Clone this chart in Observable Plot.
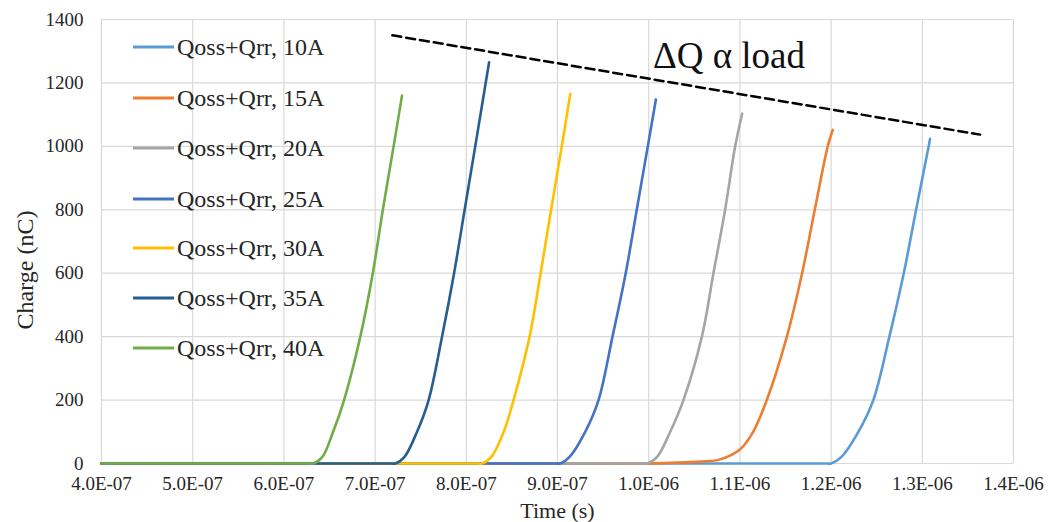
<!DOCTYPE html>
<html>
<head>
<meta charset="utf-8">
<script src="https://cdn.jsdelivr.net/npm/d3@7"></script>
<script src="https://cdn.jsdelivr.net/npm/@observablehq/plot@0.6"></script>
<style>
  html, body { margin: 0; padding: 0; background: #fff; }
  #wrap { position: relative; width: 1062px; height: 522px; font-family: "Liberation Serif", "Times New Roman", serif; color: #262626; }
  #legend { position: absolute; left: 133px; top: 0; }
  .row { position: absolute; left: 0; display: flex; align-items: center; white-space: nowrap; font-size: 24px; transform: translateY(-50%); }
  .swatch { width: 41px; height: 3px; margin-right: 3px; }
  #ytitle { position: absolute; left: 25px; top: 270px; font-size: 24px; white-space: nowrap; transform: translate(-50%, -50%) rotate(-90deg); line-height: 1; }
</style>
</head>
<body>
<div id="wrap"><div id="legend"></div><div id="ytitle"></div></div>
<script>
// ---- data (time in s, charge in nC) ----
const seriesLabels = ["Qoss+Qrr, 10A", "Qoss+Qrr, 15A", "Qoss+Qrr, 20A", "Qoss+Qrr, 25A", "Qoss+Qrr, 30A", "Qoss+Qrr, 35A", "Qoss+Qrr, 40A"];
const seriesColors = ["#5B9BD5", "#ED7D31", "#A5A5A5", "#4472C4", "#FFC000", "#255E91", "#70AD47"];

const t10A = [4.0e-7, 1.195e-6, 1.2e-6, 1.211e-6, 1.2299e-6, 1.2463e-6, 1.2639e-6, 1.2797e-6, 1.2932e-6, 1.307e-6, 1.3085e-6];
const q10A = [0, 0, 0, 20, 100, 200, 400, 600, 800, 1000, 1024];
const t15A = [4.0e-7, 9.93e-7, 9.98e-7, 1.0564e-6, 1.0784e-6, 1.1003e-6, 1.1145e-6, 1.1295e-6, 1.1515e-6, 1.1682e-6, 1.1821e-6, 1.1963e-6, 1.2018e-6];
const q15A = [0, 0, 0, 6, 13, 45, 100, 200, 400, 600, 800, 1000, 1052];
const t20A = [4.0e-7, 9.93e-7, 9.98e-7, 1.009e-6, 1.0236e-6, 1.0381e-6, 1.0583e-6, 1.0710e-6, 1.0838e-6, 1.0948e-6, 1.1025e-6];
const q20A = [0, 0, 0, 20, 100, 200, 400, 600, 800, 1000, 1103];
const t25A = [4.0e-7, 8.98e-7, 9.03e-7, 9.13e-7, 9.304e-7, 9.45e-7, 9.603e-7, 9.748e-7, 9.869e-7, 9.99e-7, 1.0079e-6];
const q25A = [0, 0, 0, 20, 100, 200, 400, 600, 800, 1000, 1148];
const t30A = [4.0e-7, 8.122e-7, 8.172e-7, 8.272e-7, 8.41e-7, 8.518e-7, 8.694e-7, 8.815e-7, 8.930e-7, 9.047e-7, 9.140e-7];
const q30A = [0, 0, 0, 20, 100, 200, 400, 600, 800, 1000, 1166];
const t35A = [4.0e-7, 7.172e-7, 7.222e-7, 7.32e-7, 7.46e-7, 7.587e-7, 7.734e-7, 7.866e-7, 7.982e-7, 8.098e-7, 8.25e-7];
const q35A = [0, 0, 0, 20, 100, 200, 400, 600, 800, 1000, 1265];
const t40A = [4.0e-7, 6.27e-7, 6.32e-7, 6.42e-7, 6.54e-7, 6.66e-7, 6.838e-7, 6.975e-7, 7.085e-7, 7.203e-7, 7.295e-7];
const q40A = [0, 0, 0, 20, 100, 200, 400, 600, 800, 1000, 1160];

const trendT = [7.189e-7, 1.3633e-6];
const trendQ = [1350, 1037];
const annotationText = "ΔQ α load";
const annotationT = 1.088e-6;
const annotationQ = 1283;

const xTicks = [4e-7, 5e-7, 6e-7, 7e-7, 8e-7, 9e-7, 1e-6, 1.1e-6, 1.2e-6, 1.3e-6, 1.4e-6];
const xTickLabels = ["4.0E-07", "5.0E-07", "6.0E-07", "7.0E-07", "8.0E-07", "9.0E-07", "1.0E-06", "1.1E-06", "1.2E-06", "1.3E-06", "1.4E-06"];
const yTicks = [0, 200, 400, 600, 800, 1000, 1200, 1400];
const yTickLabels = ["0", "200", "400", "600", "800", "1000", "1200", "1400"];
const xTitle = "Time (s)";
const yTitle = "Charge (nC)";

// ---- build ----
const seriesT = [t10A, t15A, t20A, t25A, t30A, t35A, t40A];
const seriesQ = [q10A, q15A, q20A, q25A, q30A, q35A, q40A];
const xLabelMap = new Map(xTicks.map((t, i) => [t, xTickLabels[i]]));
const yLabelMap = new Map(yTicks.map((v, i) => [v, yTickLabels[i]]));
const trend = trendT.map((t, i) => ({t, q: trendQ[i]}));

const lineMarks = seriesT.map((ts, k) =>
  Plot.line(ts.map((t, i) => ({t, q: seriesQ[k][i]})), {
    x: "t", y: "q", stroke: seriesColors[k], strokeWidth: 2.6, curve: "catmull-rom"
  })
);

const chart = Plot.plot({
  width: 1062,
  height: 522,
  marginLeft: 101,
  marginRight: 49,
  marginTop: 19,
  marginBottom: 59,
  style: {fontFamily: "'Liberation Serif', 'Times New Roman', serif", fontSize: "19px", color: "#262626", background: "white"},
  x: {domain: [4e-7, 1.4e-6]},
  y: {domain: [0, 1400]},
  marks: [
    Plot.gridX(xTicks, {stroke: "#d9d9d9", strokeOpacity: 1, strokeWidth: 1.2}),
    Plot.gridY(yTicks, {stroke: "#d9d9d9", strokeOpacity: 1, strokeWidth: 1.2}),
    Plot.axisX({ticks: xTicks, tickSize: 0, tickPadding: 13, tickFormat: d => xLabelMap.get(d), label: null, fontSize: 19}),
    Plot.axisY({ticks: yTicks, tickSize: 0, tickPadding: 18, tickFormat: d => yLabelMap.get(d), label: null, fontSize: 19}),
    ...lineMarks,
    Plot.line(trend, {x: "t", y: "q", stroke: "black", strokeWidth: 2.5, strokeDasharray: "9,5"}),
    Plot.text([annotationText], {x: () => annotationT, y: () => annotationQ, text: d => d, fontSize: 37, textAnchor: "middle", lineAnchor: "middle", fill: "#111"}),
    Plot.text([xTitle], {frameAnchor: "bottom", dy: 47, text: d => d, fontSize: 22, lineAnchor: "middle"})
  ]
});
document.getElementById("wrap").prepend(chart);
document.getElementById("ytitle").textContent = yTitle;

// legend
const legendY = [47, 98, 148, 199, 248, 298, 348];
const legend = document.getElementById("legend");
seriesLabels.forEach((label, i) => {
  const row = document.createElement("div");
  row.className = "row";
  row.style.top = legendY[i] + "px";
  const sw = document.createElement("div");
  sw.className = "swatch";
  sw.style.background = seriesColors[i];
  const tx = document.createElement("span");
  tx.textContent = label;
  row.appendChild(sw);
  row.appendChild(tx);
  legend.appendChild(row);
});
</script>
</body>
</html>
